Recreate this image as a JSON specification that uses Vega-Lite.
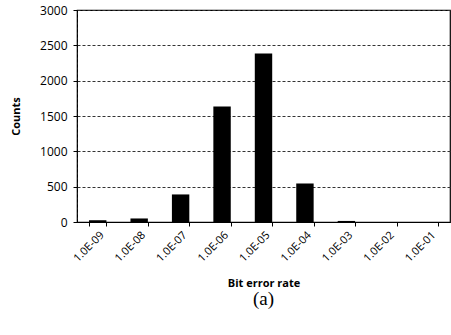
{
  "$schema": "https://vega.github.io/schema/vega-lite/v6.json",
  "width": 373,
  "height": 212,
  "autosize": {"type": "none"},
  "padding": {"left": 77, "top": 10, "right": 1, "bottom": 113},
  "background": "white",
  "data": {"values": [
    {"ber": "1.0E-09", "count": 25},
    {"ber": "1.0E-08", "count": 50},
    {"ber": "1.0E-07", "count": 390},
    {"ber": "1.0E-06", "count": 1635},
    {"ber": "1.0E-05", "count": 2385},
    {"ber": "1.0E-04", "count": 545},
    {"ber": "1.0E-03", "count": 15},
    {"ber": "1.0E-02", "count": 0},
    {"ber": "1.0E-01", "count": 0}
  ]},
  "title": {
    "text": "(a)",
    "orient": "bottom",
    "font": "Liberation Serif",
    "fontSize": 19,
    "fontWeight": "normal",
    "color": "black",
    "offset": 2
  },
  "config": {
    "view": {"stroke": "black", "strokeWidth": 1.2},
    "axis": {"labelFont": "Open Sans", "titleFont": "Open Sans", "labelColor": "black", "titleColor": "black"}
  },
  "mark": {"type": "bar", "color": "black"},
  "encoding": {
    "x": {
      "field": "ber",
      "type": "ordinal",
      "sort": null,
      "scale": {"paddingInner": 0.58, "paddingOuter": 0.29},
      "axis": {
        "title": "Bit error rate",
        "titleFontSize": 11,
        "titleFontWeight": "bold",
        "titlePadding": 14,
        "labelAngle": -45,
        "labelFontSize": 11,
        "tickBand": "extent",
        "tickColor": "black",
        "tickSize": 4,
        "domainColor": "black",
        "labelPadding": 3
      }
    },
    "y": {
      "field": "count",
      "type": "quantitative",
      "scale": {"domain": [0, 3000]},
      "axis": {
        "title": "Counts",
        "titleFontSize": 11,
        "titleFontWeight": "bold",
        "titlePadding": 18,
        "format": "d",
        "values": [0, 500, 1000, 1500, 2000, 2500, 3000],
        "labelFontSize": 12,
        "gridColor": "#333",
        "gridDash": [3, 2],
        "gridWidth": 1,
        "gridOpacity": 1,
        "tickColor": "black",
        "tickSize": 4,
        "domainColor": "black",
        "domainDash": [3, 2],
        "labelPadding": 6
      }
    }
  }
}
